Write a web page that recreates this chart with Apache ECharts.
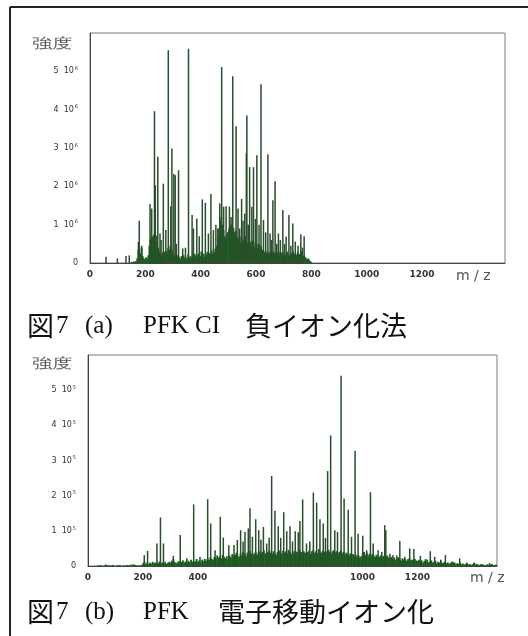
<!DOCTYPE html>
<html><head><meta charset="utf-8">
<script src="https://cdn.jsdelivr.net/npm/echarts@6/dist/echarts.min.js"></script>
<style>html,body{margin:0;padding:0;background:#fff}#c{width:528px;height:636px}</style>
</head><body><div id="c"></div>
<script>
// ---- Chart (a): PFK CI negative ionisation, intensity in units of 10^6 ----
const peaksA = [[58,0.16],[99,0.12],[130,0.18],[142,0.2],[175,0.55],[178,1.1],[187,0.45],[217,1.54],[223,1.42],[233,3.96],[236,2.03],[245,2.77],[253,0.77],[257,0.6],[265,2.07],[274,0.86],[283,5.55],[292,1.48],[296,2.99],[303,2.32],[308,2.29],[312,0.5],[320,2.42],[335,0.38],[345,0.4],[356,5.59],[369,1.25],[374,0.9],[386,1.16],[395,0.7],[406,1.66],[417,1.57],[428,0.77],[437,1.8],[446,0.86],[455,1.0],[462,0.9],[469,1.55],[476,5.11],[483,1.47],[492,1.48],[504,1.47],[510,1.2],[516,4.87],[528,3.57],[535,1.42],[541,0.9],[548,1.67],[553,1.1],[559,1.29],[565,2.86],[567,3.85],[572,1.0],[577,2.5],[585,1.47],[591,2.5],[598,1.15],[603,2.81],[611,1.0],[618,4.66],[627,1.12],[635,0.8],[643,2.84],[651,0.77],[656,0.6],[661,1.64],[669,2.13],[675,0.5],[681,0.77],[688,0.6],[697,1.38],[703,0.5],[709,0.69],[719,1.25],[726,0.45],[733,1.03],[742,0.56],[752,0.45],[762,0.75],[768,0.4],[774,0.7],[790,0.12]];
const grassAStart = 150, grassAStep = 4;
const grassA = [0.03,0.02,0.04,0.03,0.05,
 0.12,0.35,0.42,0.25,0.38,0.18,0.12,0.1,
 0.15,0.12,0.2,0.45,
 0.62,0.7,0.68,0.74,0.6,0.72,0.55,0.4,0.3,
 0.22,0.18,0.28,0.2,0.3,0.24,0.32,
 0.4,0.35,0.45,0.38,0.3,
 0.22,0.18,0.15,0.2,0.12,0.16,0.1,0.18,0.14,0.2,
 0.12,0.15,0.1,0.22,0.14,0.18,0.12,0.2,0.16,0.24,
 0.18,0.14,0.22,0.26,0.18,0.3,0.2,0.24,0.16,0.28,
 0.22,0.3,0.26,0.2,0.32,0.24,0.36,0.28,0.4,0.45,
 0.7,0.9,1.1,1.2,1.0,0.85,0.7,0.65,0.75,0.8,
 0.9,0.95,1.0,0.88,0.92,0.8,0.85,0.7,0.65,
 0.6,0.55,0.68,0.5,0.62,0.58,0.7,0.52,0.48,0.6,0.55,0.45,0.58,0.5,0.42,0.55,0.48,0.4,0.5,0.38,0.45,
 0.35,0.3,0.28,0.32,0.25,0.3,0.22,0.28,0.26,0.2,0.3,0.24,0.28,0.22,0.26,0.3,0.2,0.25,0.28,0.22,
 0.28,0.2,0.25,0.3,0.22,0.18,0.26,0.2,0.3,0.24,0.18,0.22,0.28,0.2,0.24,0.3,0.22,0.18,0.2,0.15,0.12,0.1,0.08,0.06,0.03];

// ---- Chart (b): PFK electron transfer ionisation, intensity in units of 10^5 ----
const peaksB = [[205,0.31],[217,0.43],[251,0.64],[264,1.38],[275,0.64],[311,0.29],[336,0.88],[360,0.22],[385,1.75],[408,0.26],[436,1.9],[447,1.21],[463,0.45],[482,1.4],[493,0.81],[513,0.59],[532,0.6],[544,0.74],[556,1.02],[565,0.7],[572,0.97],[584,1.07],[590,1.64],[599,0.83],[611,1.33],[622,1.02],[630,0.75],[639,1.11],[651,0.64],[660,0.8],[669,2.56],[681,1.57],[693,1.13],[702,0.8],[713,1.53],[724,0.99],[736,1.13],[745,0.7],[755,0.99],[766,0.96],[772,1.28],[782,1.89],[796,0.64],[808,0.7],[821,2.09],[833,1.8],[845,1.33],[857,1.21],[865,0.8],[873,2.7],[884,3.71],[899,1.02],[909,0.97],[922,5.41],[933,1.92],[948,1.6],[960,0.83],[973,3.28],[984,0.92],[1001,0.86],[1015,0.45],[1029,2.1],[1039,0.64],[1057,0.45],[1070,0.4],[1081,1.16],[1085,1.02],[1100,0.35],[1111,0.31],[1125,0.3],[1136,0.71],[1154,0.26],[1172,0.5],[1187,0.48],[1211,0.29],[1230,0.2],[1247,0.42],[1263,0.26],[1285,0.18],[1302,0.31],[1330,0.12],[1354,0.22],[1380,0.1],[1408,0.1],[1435,0.06],[1463,0.08]];
const grassBStart = 30, grassBStep = 5;
const grassB = [0,0.02,0,0.03,0.01,0,0.02,0.04,0.01,0.03,
 0,0.02,0.03,0.01,0,0.02,0.01,0.03,0,0.01,
 0.02,0,0.03,0.02,0.01,0.04,0.02,0.05,0.03,0.01,
 0.02,0.01,0.02,0.03,
 0.08,0.12,0.06,0.1,0.05,0.09,0.07,0.12,0.08,0.1,0.06,0.09,0.13,0.07,0.1,0.08,0.11,0.06,0.09,0.12,
 0.1,0.15,0.2,0.12,0.08,0.1,0.14,0.09,0.12,0.16,0.1,0.13,0.08,0.15,0.11,0.18,0.12,0.1,0.14,0.2,
 0.12,0.16,0.1,0.18,0.14,0.2,0.15,0.22,0.17,0.25,0.2,0.18,0.26,0.22,0.3,0.24,0.28,0.22,0.32,0.26,
 0.22,0.28,0.2,0.3,0.25,0.34,0.28,0.32,0.38,0.3,0.26,0.36,0.3,0.4,0.34,0.28,0.38,0.32,0.42,0.35,
 0.3,0.36,0.4,0.32,0.38,0.42,0.34,0.4,0.44,0.36,0.32,0.4,0.45,0.38,0.34,0.42,0.36,0.32,0.4,0.44,
 0.4,0.34,0.44,0.38,0.42,0.36,0.46,0.4,0.34,0.42,0.38,0.44,0.4,0.34,0.45,0.4,0.36,0.42,0.38,0.34,
 0.4,0.44,0.34,0.42,0.46,0.38,0.42,0.36,0.48,0.42,0.38,0.44,0.4,0.34,0.42,0.46,0.4,0.34,0.42,0.45,
 0.38,0.42,0.34,0.4,0.44,0.36,0.4,0.32,0.38,0.34,0.3,0.36,0.3,0.34,0.28,0.32,0.27,0.3,0.25,0.28,
 0.36,0.4,0.32,0.38,0.3,0.35,0.28,0.34,0.3,0.26,0.32,0.28,0.25,0.3,0.24,0.28,0.32,0.26,0.3,0.24,
 0.22,0.26,0.2,0.24,0.18,0.22,0.25,0.2,0.16,0.22,0.18,0.2,0.15,0.19,0.22,0.16,0.18,0.14,0.2,0.16,
 0.14,0.18,0.12,0.16,0.1,0.15,0.12,0.18,0.1,0.13,0.16,0.1,0.12,0.15,0.08,0.12,0.1,0.14,0.08,0.1,
 0.12,0.08,0.1,0.06,0.09,0.12,0.07,0.1,0.05,0.08,0.06,0.1,0.05,0.07,0.04,0.06,0.08,0.04,0.06,0.03,
 0.05,0.08,0.03,0.06,0.04,0.02,0.05,0.03,0.04,0.02,0.03,0.05,0.02,0.04,0.06,0.03,0.02,0.04,0.02];

const xTicksA = [0,200,400,600,800,1000,1200];
const xTicksB = [0,200,400,1000,1200];
const yExpA = '6', yExpB = '5';
// title pieces: [text, kind]  kind: 'j' = Japanese glyphs, 'l' = Latin glyphs
const titleA = [['図','j'],['7','l'],['(a)','l'],['PFK CI','l'],['負イオン化法','j']];
const titleB = [['図','j'],['7','l'],['(b)','l'],['PFK','l'],['電子移動イオン化','j']];

const grassAData = grassA.map((v,i)=>[grassAStart + i*grassAStep, v]);
const grassBData = grassB.map((v,i)=>[grassBStart + i*grassBStep, v]);

const chart = echarts.init(document.getElementById('c'), null, {renderer:'canvas'});
const yLab = exp => ({
  margin: 12, color:'#333', fontFamily:'DejaVu Sans', fontSize: 8,
  formatter: v => v === 0 ? '0' : (v >= 6 ? '' : '{n|' + v + '  10}{s|' + exp + '}'),
  rich: { n:{fontSize:8, color:'#333', fontFamily:'DejaVu Sans'}, s:{fontSize:5, color:'#333', padding:[0,0,5,1], fontFamily:'DejaVu Sans'} }
});
const xLab = ticks => ({
  margin: 7, color:'#333', fontFamily:'DejaVu Sans', fontSize: 9, fontWeight:'bold',
  showMaxLabel:false,
  formatter: v => ticks.indexOf(v) >= 0 ? String(v) : ''
});
const peakColor = '#2a4d2c', grassColor = '#18621c';

function titleGraphics(parts, xs, y) {
  return parts.map((p, i) => ({
    type:'text', x: xs[i], y: y,
    style:{ text:p[0], fill:'#111', textVerticalAlign:'middle',
      font: p[1] === 'j' ? "27px 'Noto Sans CJK JP'" : "25px 'Liberation Serif'" }
  }));
}

chart.setOption({
  animation:false,
  backgroundColor:'#fff',
  grid:[
    {left:90, top:33, right:23, bottom:373, show:true, borderColor:'#7a7a88', borderWidth:1},
    {left:88, top:355, right:31, bottom:70, show:true, borderColor:'#7a7a88', borderWidth:1}
  ],
  xAxis:[
    {gridIndex:0, type:'value', min:0, max:1500, interval:200, axisLine:{show:true,onZero:false,lineStyle:{color:'#444'}}, axisTick:{show:false}, splitLine:{show:false}, axisLabel:xLab(xTicksA)},
    {gridIndex:1, type:'value', min:0, max:1490, interval:200, axisLine:{show:true,onZero:false,lineStyle:{color:'#444'}}, axisTick:{show:false}, splitLine:{show:false}, axisLabel:xLab(xTicksB)}
  ],
  yAxis:[
    {gridIndex:0, type:'value', min:0, max:6, interval:1, axisLine:{show:true,lineStyle:{color:'#444'}}, axisTick:{show:false}, splitLine:{show:false}, axisLabel:yLab(yExpA)},
    {gridIndex:1, type:'value', min:0, max:6, interval:1, axisLine:{show:true,lineStyle:{color:'#444'}}, axisTick:{show:false}, splitLine:{show:false}, axisLabel:yLab(yExpB)}
  ],
  series:[
    {type:'bar', xAxisIndex:0, yAxisIndex:0, data:grassAData, barWidth:1.8, barGap:'-100%', itemStyle:{color:grassColor}},
    {type:'bar', xAxisIndex:0, yAxisIndex:0, data:peaksA, barWidth:1.5, barGap:'-100%', itemStyle:{color:peakColor}},
    {type:'bar', xAxisIndex:1, yAxisIndex:1, data:grassBData, barWidth:1.9, barGap:'-100%', itemStyle:{color:grassColor}},
    {type:'bar', xAxisIndex:1, yAxisIndex:1, data:peaksB, barWidth:1.5, barGap:'-100%', itemStyle:{color:peakColor}}
  ],
  graphic:[
    {type:'line', shape:{x1:10,y1:7,x2:528,y2:7}, style:{stroke:'#222', lineWidth:2}},
    {type:'line', shape:{x1:10,y1:7,x2:10,y2:636}, style:{stroke:'#222', lineWidth:2}},
    {type:'text', left:32, top:37, style:{text:'強度', fontSize:14, fill:'#555', font:"14px 'Noto Sans CJK JP'"}, scaleX:1.45},
    {type:'text', left:32, top:357, style:{text:'強度', fontSize:14, fill:'#555', font:"14px 'Noto Sans CJK JP'"}, scaleX:1.45},
    {type:'text', x:456, y:276, style:{text:'m / z', font:"14px 'DejaVu Sans'", fill:'#555', textVerticalAlign:'middle'}},
    {type:'text', x:470, y:578, style:{text:'m / z', font:"14px 'DejaVu Sans'", fill:'#555', textVerticalAlign:'middle'}}
  ].concat(titleGraphics(titleA, [27, 56, 85, 143, 245], 326))
   .concat(titleGraphics(titleB, [27, 56, 85, 143, 218], 612))
});
</script></body></html>
